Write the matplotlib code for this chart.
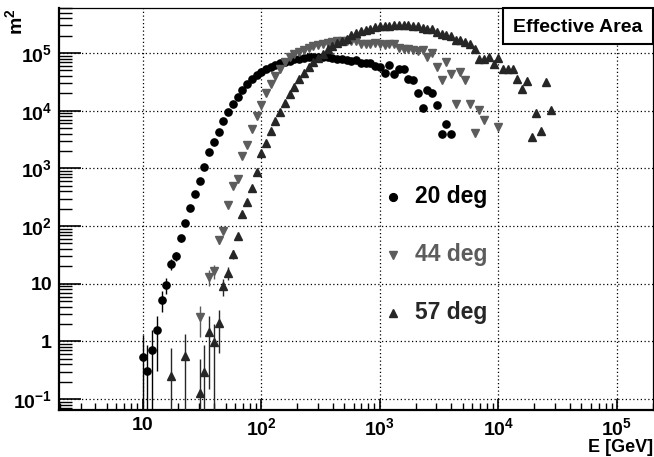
import numpy as np
import matplotlib
matplotlib.use("Agg")
import matplotlib.pyplot as plt
from matplotlib.lines import Line2D
from matplotlib.patches import Rectangle
from matplotlib.ticker import FixedLocator, FixedFormatter, LogLocator, NullFormatter

plt.rcParams["font.family"] = ["Liberation Sans", "DejaVu Sans"]
plt.rcParams["font.weight"] = "bold"
plt.rcParams["mathtext.fontset"] = "custom"
plt.rcParams["mathtext.rm"] = "Liberation Sans:bold"
plt.rcParams["mathtext.bf"] = "Liberation Sans:bold"
plt.rcParams["mathtext.default"] = "bf"

# energy bin centres [GeV], 25 bins per decade
E_BINS = [
    10.0, 10.96, 12.02, 13.18, 14.45, 15.85, 17.38, 19.05, 20.89, 22.91,
    25.12, 27.54, 30.20, 33.11, 36.31, 39.81, 43.65, 47.86, 52.48, 57.54,
    63.10, 69.18, 75.86, 83.18, 91.20, 100.0, 109.6, 120.2, 131.8, 144.5,
    158.5, 173.8, 190.5, 208.9, 229.1, 251.2, 275.4, 302.0, 331.1, 363.1,
    398.1, 436.5, 478.6, 524.8, 575.4, 631.0, 691.8, 758.6, 831.8, 912.0,
    1000, 1096, 1202, 1318, 1445, 1585, 1738, 1905, 2089, 2291,
    2512, 2754, 3020, 3311, 3631, 3981, 4365, 4786, 5248, 5754,
    6310, 6918, 7586, 8318, 9120, 10000, 10960, 12020, 13180, 14450,
    15850, 17380, 19050, 20890, 22910, 25120, 27540,
]

# effective area [m^2] per bin, None = empty bin
AREA_20 = [
    0.53, 0.31, 0.71, 1.55, 5.3, 9.6, 21.9, 30.5, 61, 111,
    203, 363, 596, 1070, 1900, 2840, 4300, 6620, 9480, 13060,
    17460, 22800, 29400, 35400, 41600, 46900, 52800, 57800, 61900, 66200,
    70300, 73500, 77600, 79600, 83000, 86300, 84100, 86300, 86300, 84100,
    83000, 79600, 77600, 75700, 72600, 75900, 66200, 67900, 66200, 59600,
    57800, 45600, 61100, 43300, 53500, 53500, 35800, 33700, 20500, 11100,
    22500, 20200, 12700, 3890, 5870, 3890, None, None, None, None,
    None, None, None, None, None, None, None, None, None, None,
    None, None, None, None, None, None, None,
]
AREA_44 = [
    None, None, None, None, None, None, None, None, None, None,
    None, None, 2.67, None, 13.2, 16.6, 57, 83, 231, 488,
    653, 1656, 2506, 4750, 8180, 12400, 20500, 28600, 40400, 53500,
    70800, 85100, 97300, 105400, 112700, 123600, 132100, 139300, 144900, 148900,
    155200, 161400, 163700, 163700, 161400, 159200, 144900, 144900, 144900, 151000,
    144900, 139300, 141600, 141600, 123600, 118900, 118900, 111400, 108400, 114000,
    86300, 100000, 57800, 33700, 69000, 42700, 13200, 46600, 33700, 12900,
    4150, 10300, 6890, None, None, 5150, None, None, None, None,
    None, None, None, None, None, None, None,
]
AREA_57 = [
    None, None, None, None, None, None, 0.254, None, None, 0.557,
    None, None, 0.129, 0.297, 1.45, 0.975, 2.06, 9.2, 15.5, 32.7,
    67, 160, 258, 451, 853, 1820, 2790, 4440, 6550, 9480,
    13600, 19450, 26100, 35000, 44500, 56500, 69000, 83000, 94800, 117200,
    132100, 147200, 161400, 177000, 202800, 224900, 237700, 247700, 260600, 279300,
    293800, 297200, 297200, 306200, 306200, 302000, 302000, 293800, 293800, 267900,
    264200, 264200, 233900, 216300, 208000, 197200, 167900, 167900, 155200, 143200,
    115900, 78700, 79600, 85300, 63700, 83000, 52100, 52100, 53500, 35400,
    23800, 33100, 3450, 9000, 4500, 31400, 10300,
]

# statistical errors where they stick out of the markers {bin: error}
ERR_20 = {0: 0.76, 1: 0.55, 2: 0.84, 3: 1.24, 4: 2.1, 5: 3.1, 6: 4.7, 7: 5.5, 8: 7.8}
ERR_44 = {12: 1.5, 14: 4.0, 15: 4.5, 16: 7.5, 17: 9.0}
ERR_57 = {6: 0.52, 9: 0.77, 12: 0.36, 13: 0.57, 14: 1.3, 15: 1.0, 16: 1.43,
          17: 3.0, 18: 4.0, 19: 5.7}

LABELS = ["20 deg", "44 deg", "57 deg"]
MARKERS = ["o", "v", "^"]
COLORS = ["black", "#5c5c5c", "#262626"]


def series(area, errs):
    e = np.array(E_BINS, dtype=float)
    a = np.array([np.nan if v is None else v for v in area], dtype=float)
    err = np.zeros_like(a)
    for i, v in errs.items():
        err[i] = v
    ok = ~np.isnan(a)
    e, a, err = e[ok], a[ok], err[ok]
    lo = np.minimum(err, a - 1e-4)
    return e, a, np.vstack([lo, err])


fig = plt.figure(figsize=(6.54, 4.57), dpi=100)
W, H = 654.0, 457.0
ax = fig.add_axes([59 / W, 47 / H, 594 / W, 402 / H])
ax.set_xscale("log")
ax.set_yscale("log")
ax.set_xlim(1.97, 2.01e5)
ax.set_ylim(0.0646, 6.03e5)

for area, errs, mk, col, ms in zip([AREA_20, AREA_44, AREA_57],
                                   [ERR_20, ERR_44, ERR_57],
                                   MARKERS, COLORS, [5.2, 5.6, 5.6]):
    e, a, yerr = series(area, errs)
    ax.errorbar(e, a, yerr=yerr, fmt=mk, color=col, ecolor=col, ms=ms,
                mec=col, mfc=col, elinewidth=1.0, capsize=0, zorder=3)

# axis ticks and grid
xt = [10, 1e2, 1e3, 1e4, 1e5]
ax.xaxis.set_major_locator(FixedLocator(xt))
ax.xaxis.set_major_formatter(FixedFormatter(["10", r"$10^{2}$", r"$10^{3}$",
                                             r"$10^{4}$", r"$10^{5}$"]))
yt = [0.1, 1, 10, 1e2, 1e3, 1e4, 1e5]
ax.yaxis.set_major_locator(FixedLocator(yt))
ax.yaxis.set_major_formatter(FixedFormatter([r"$10^{-1}$", "1", "10", r"$10^{2}$",
                                             r"$10^{3}$", r"$10^{4}$", r"$10^{5}$"]))
for axis in (ax.xaxis, ax.yaxis):
    axis.set_minor_locator(LogLocator(base=10, subs=np.arange(2, 10), numticks=20))
    axis.set_minor_formatter(NullFormatter())

ax.tick_params(axis="x", which="major", direction="in", length=8, width=1.2,
               labelsize=14, pad=5)
ax.tick_params(axis="x", which="minor", direction="in", length=5, width=1.0)
ax.tick_params(axis="y", which="major", direction="in", length=16, width=1.2,
               labelsize=14, pad=5)
ax.tick_params(axis="y", which="minor", direction="in", length=9, width=1.0)
ax.grid(True, which="major", color="black", linestyle=(0, (1, 2)), linewidth=0.9)

for side in ("left", "bottom"):
    ax.spines[side].set_linewidth(1.6)
for side in ("top", "right"):
    ax.spines[side].set_linewidth(0.9)

fig.text(15 / W, 1 - 22 / H, r"m$^{2}$", rotation=90, fontsize=14,
         ha="center", va="center")
fig.text(653 / W, 1 / H, "E [GeV]", fontsize=13, ha="right", va="bottom")

# title box
fig.add_artist(Rectangle((503 / W, 1 - 44 / H), 150 / W, 36 / H,
                         transform=fig.transFigure, fill=True, fc="white",
                         ec="black", lw=1.5, zorder=5))
fig.text(578 / W, 1 - 27 / H, "Effective Area", fontsize=14,
         ha="center", va="center", zorder=6)

# legend entries
for lab, mk, col, yy in zip(LABELS, MARKERS, COLORS, [197, 255, 313]):
    fig.add_artist(Line2D([393 / W], [1 - yy / H], marker=mk, color=col,
                          ms=5.6, transform=fig.transFigure, ls="none"))
    fig.text(415 / W, 1 - yy / H, lab, fontsize=16.5, color=col,
             ha="left", va="center")

fig.savefig("out.png", dpi=100)
